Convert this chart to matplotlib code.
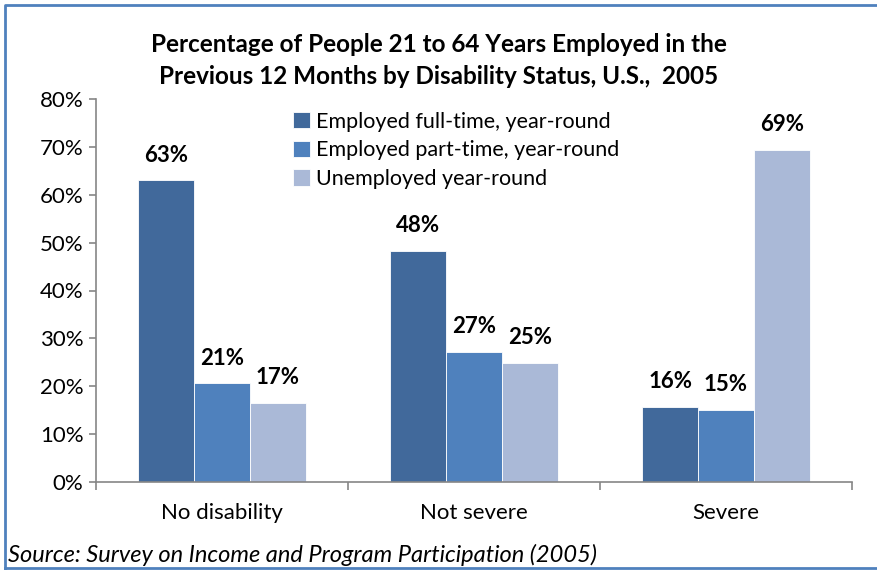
import matplotlib.pyplot as plt
import matplotlib.lines as mlines
import numpy as np

plt.rcParams['font.family'] = ['Lato', 'DejaVu Sans']

categories = ['No disability', 'Not severe', 'Severe']
series_names = ['Employed full-time, year-round',
                'Employed part-time, year-round',
                'Unemployed year-round']
full_time = [63.0, 48.2, 15.6]
part_time = [20.6, 27.1, 15.1]
unemployed = [16.5, 24.8, 69.3]
value_labels = [['63%', '48%', '16%'],
                ['21%', '27%', '15%'],
                ['17%', '25%', '69%']]
colors = ['#41699B', '#4F81BD', '#AAB9D7']

fig = plt.figure(figsize=(8.78, 5.70), dpi=100)
ax = fig.add_axes([96 / 878, 1 - 482 / 570, 756 / 878, 383 / 570])

x = np.arange(len(categories))
width = 0.222
for i, (vals, col, name) in enumerate(zip([full_time, part_time, unemployed], colors, series_names)):
    pos = x + (i - 1) * width
    ax.bar(pos, vals, width=width, color=col, label=name, edgecolor='white', linewidth=0.6)
    for px, v, lab in zip(pos, vals, value_labels[i]):
        ax.text(px, v + 5.3, lab, ha='center', va='center', fontsize=16, fontweight='bold')

ax.set_xlim(-0.5, 2.5)
ax.set_ylim(0, 80)
ax.set_yticks(np.arange(0, 81, 10))
ax.set_yticklabels([f'{t}%' for t in range(0, 81, 10)], fontsize=16)
ax.set_xticks(x)
ax.set_xticklabels(categories, fontsize=16)
ax.tick_params(axis='x', length=0, pad=15)
ax.set_xticks([-0.5, 0.5, 1.5, 2.5], minor=True)
ax.tick_params(axis='x', which='minor', length=6, color='#868686', width=1.2)
ax.tick_params(axis='y', length=5, color='#868686', width=1.2, pad=4)
for s in ['top', 'right']:
    ax.spines[s].set_visible(False)
for s in ['left', 'bottom']:
    ax.spines[s].set_color('#868686')
    ax.spines[s].set_linewidth(1.2)

leg = ax.legend(loc='upper left', bbox_to_anchor=(188 / 756, 1 - 4 / 383), frameon=False,
                fontsize=15.5, handlelength=0.8, handleheight=0.8, handletextpad=0.3,
                labelspacing=0.4, borderaxespad=0)

fig.text(0.5, 1 - 45 / 570, 'Percentage of People 21 to 64 Years Employed in the',
         ha='center', va='center', fontsize=17.5, fontweight='bold')
fig.text(0.5, 1 - 76 / 570, 'Previous 12 Months by Disability Status, U.S.,  2005',
         ha='center', va='center', fontsize=17.5, fontweight='bold')
fig.text(8 / 878, 1 - 555 / 570, 'Source: Survey on Income and Program Participation (2005)',
         ha='left', va='center', fontsize=17, style='italic')

# chart border
fig.add_artist(mlines.Line2D([5 / 878, 5 / 878, 1.0], [1 - 569 / 570, 1 - 5 / 570, 1 - 5 / 570],
                             transform=fig.transFigure, color='#4F81BD', linewidth=2))
fig.add_artist(mlines.Line2D([5 / 878, 1.0], [1 - 568 / 570, 1 - 568 / 570],
                             transform=fig.transFigure, color='#4F81BD', linewidth=2))

fig.savefig('out.png', dpi=100)
